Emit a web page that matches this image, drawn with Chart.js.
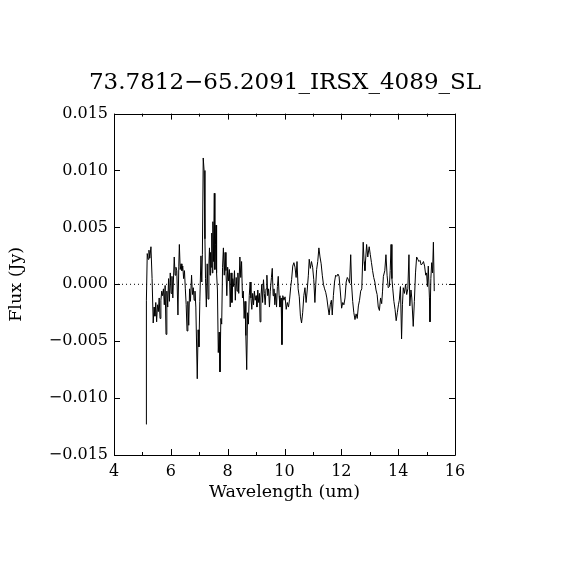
<!DOCTYPE html>
<html>
<head>
<meta charset="utf-8">
<script src="https://cdn.jsdelivr.net/npm/chart.js@4.4.1/dist/chart.umd.min.js"></script>
<style>
  html, body { margin: 0; padding: 0; background: #ffffff; }
  canvas { display: block; }
</style>
</head>
<body>
<canvas id="c" width="570" height="570"></canvas>
<script>
const chartTitle = "73.7812\u221265.2091_IRSX_4089_SL";
const xAxisTitle = "Wavelength (um)";
const yAxisTitle = "Flux (Jy)";

const xTickValues = [4, 6, 8, 10, 12, 14, 16];
const yTickValues = [-0.015, -0.010, -0.005, 0.000, 0.005, 0.010, 0.015];

const wavelength = [
  5.13, 5.14, 5.17, 5.20, 5.23, 5.26, 5.30, 5.34, 5.38, 5.41, 5.44, 5.47, 5.50, 5.53, 5.56, 5.59,
  5.62, 5.65, 5.68, 5.71, 5.74, 5.77, 5.80, 5.83, 5.86, 5.89, 5.92, 5.95, 5.98, 6.01, 6.04, 6.07,
  6.12, 6.15, 6.18, 6.21, 6.25, 6.28, 6.30, 6.33, 6.36, 6.39, 6.42, 6.45, 6.48, 6.51, 6.54, 6.57,
  6.60, 6.63, 6.66, 6.69, 6.73, 6.76, 6.79, 6.82, 6.85, 6.88, 6.93, 6.96, 6.99, 7.02, 7.06, 7.09,
  7.11, 7.14, 7.17, 7.20, 7.22, 7.25, 7.28, 7.31, 7.34, 7.36, 7.38, 7.40, 7.42, 7.44, 7.46, 7.48,
  7.50, 7.53, 7.55, 7.57, 7.59, 7.61, 7.64, 7.67, 7.70, 7.73, 7.76, 7.79, 7.82, 7.85, 7.88, 7.91,
  7.94, 7.97, 8.00, 8.03, 8.06, 8.09, 8.12, 8.15, 8.18, 8.21, 8.24, 8.27, 8.30, 8.33, 8.36, 8.39,
  8.43, 8.46, 8.49, 8.52, 8.55, 8.58, 8.61, 8.64, 8.67, 8.70, 8.73, 8.76, 8.79, 8.82, 8.85, 8.88,
  8.91, 8.94, 8.97, 9.00, 9.03, 9.06, 9.09, 9.12, 9.14, 9.17, 9.20, 9.23, 9.26, 9.29, 9.32, 9.35,
  9.38, 9.41, 9.44, 9.47, 9.50, 9.54, 9.57, 9.60, 9.63, 9.66, 9.69, 9.72, 9.75, 9.78, 9.81, 9.84,
  9.88, 9.91, 9.94, 9.98, 10.02, 10.06, 10.10, 10.14, 10.18, 10.22, 10.25, 10.29, 10.33, 10.37, 10.41, 10.44,
  10.48, 10.52, 10.56, 10.60, 10.64, 10.68, 10.72, 10.76, 10.80, 10.84, 10.87, 10.91, 10.95, 10.99, 11.03, 11.07,
  11.10, 11.13, 11.17, 11.21, 11.25, 11.29, 11.33, 11.37, 11.41, 11.45, 11.49, 11.53, 11.57, 11.61, 11.65, 11.68,
  11.72, 11.76, 11.80, 11.84, 11.88, 11.92, 11.96, 12.01, 12.05, 12.09, 12.13, 12.17, 12.21, 12.25, 12.29, 12.33,
  12.36, 12.40, 12.44, 12.48, 12.52, 12.56, 12.60, 12.64, 12.68, 12.72, 12.77, 12.80, 12.83, 12.89, 12.93, 12.98,
  13.02, 13.06, 13.10, 13.14, 13.18, 13.22, 13.26, 13.30, 13.34, 13.38, 13.42, 13.45, 13.48, 13.53, 13.57, 13.61,
  13.65, 13.69, 13.72, 13.75, 13.78, 13.81, 13.85, 13.89, 13.93, 13.97, 14.01, 14.04, 14.08, 14.12, 14.15, 14.18,
  14.22, 14.26, 14.30, 14.34, 14.38, 14.41, 14.45, 14.48, 14.53, 14.57, 14.61, 14.65, 14.69, 14.73, 14.77, 14.81,
  14.85, 14.89, 14.93, 14.97, 15.00, 15.03, 15.06, 15.10, 15.12, 15.15, 15.18, 15.21, 15.24, 15.27
];

const flux = [
  -0.0123, -0.0014, 0.0027, 0.0022, 0.0030, 0.0023, 0.0033, 0.0005, -0.0034, -0.0020, -0.0028, -0.0016, -0.0033, -0.0018, -0.0024, -0.0012,
  -0.0030, -0.0014, -0.0006, -0.0010, -0.0004, -0.0018, -0.0001, -0.0044, -0.0006, -0.0020, 0.0005, -0.0015, 0.0010, -0.0008, 0.0007, -0.0012,
  0.0024, 0.0008, 0.0015, 0.0012, -0.0027, 0.0016, 0.0035, 0.0013, 0.0018, 0.0012, 0.0016, 0.0005, 0.0012, -0.0004, -0.0018, -0.0041,
  -0.0015, -0.0036, -0.0004, -0.0015, 0.0008, -0.0009, -0.0003, -0.0014, -0.0006, -0.0020, -0.0083, -0.0040, -0.0055, -0.0015, 0.0025, 0.0002,
  0.0026, 0.0111, 0.0100, 0.0040, 0.0005, -0.0020, 0.0018, -0.0013, 0.0018, 0.0032, 0.0008, 0.0028, 0.0015, 0.0045, 0.0010, 0.0055,
  0.0020, 0.0080, 0.0013, 0.0035, 0.0052, 0.0010, -0.0005, -0.0060, -0.0042, -0.0077, -0.0030, -0.0035, 0.0015, 0.0032, 0.0008, 0.0028,
  0.0012, -0.0010, 0.0015, 0.0003, 0.0013, -0.0020, 0.0010, -0.0016, 0.0005, -0.0002, 0.0012, -0.0014, 0.0006, -0.0006, 0.0010, -0.0008,
  0.0024, 0.0006, 0.0020, -0.0012, -0.0006, -0.0030, -0.0015, -0.0045, -0.0075, -0.0025, -0.0035, -0.0010, 0.0002, -0.0012, -0.0022, -0.0008,
  -0.0018, -0.0006, -0.0014, -0.0010, -0.0020, -0.0005, -0.0016, -0.0008, -0.0033, -0.0012, 0.0000, -0.0016, 0.0004, -0.0008, -0.0018, -0.0004,
  0.0008, -0.0010, -0.0004, -0.0020, -0.0006, 0.0006, 0.0014, -0.0010, -0.0004, -0.0018, -0.0008, -0.0020, -0.0002, 0.0007, -0.0010, -0.0020,
  -0.0012, -0.0053, -0.0010, -0.0014, -0.0011, -0.0022, -0.0016, -0.0020, -0.0013, -0.0002, 0.0004, 0.0016, 0.0019, 0.0015, 0.0006, 0.0020,
  -0.0004, -0.0011, -0.0028, -0.0034, -0.0025, -0.0010, -0.0003, -0.0016, -0.0005, 0.0008, 0.0022, 0.0014, 0.0020, 0.0015, 0.0004, -0.0016,
  0.0000, 0.0013, 0.0020, 0.0032, 0.0024, 0.0018, 0.0008, 0.0000, -0.0004, -0.0007, -0.0012, -0.0020, -0.0027, -0.0018, -0.0014, -0.0027,
  -0.0010, 0.0002, 0.0008, 0.0007, 0.0009, 0.0007, -0.0005, -0.0021, -0.0016, -0.0018, -0.0012, 0.0002, 0.0006, 0.0004, 0.0001, 0.0026,
  0.0000, -0.0015, -0.0025, -0.0031, -0.0026, -0.0030, -0.0019, -0.0014, -0.0006, -0.0004, 0.0037, 0.0020, 0.0012, 0.0035, 0.0024, 0.0033,
  0.0026, 0.0019, 0.0012, 0.0006, 0.0002, -0.0005, -0.0009, -0.0020, -0.0023, -0.0012, -0.0017, -0.0006, 0.0007, 0.0012, 0.0026, 0.0008,
  -0.0003, -0.0002, 0.0012, 0.0035, 0.0005, -0.0004, -0.0015, -0.0022, -0.0032, -0.0025, -0.0018, -0.0014, -0.0002, -0.0048, -0.0018, -0.0003,
  -0.0008, 0.0000, -0.0009, -0.0004, 0.0026, -0.0019, -0.0005, -0.0012, -0.0037, -0.0015, 0.0010, 0.0024, 0.0022, 0.0020, 0.0021, 0.0017,
  0.0018, 0.0020, 0.0016, 0.0008, 0.0010, -0.0002, 0.0016, -0.0012, -0.0033, 0.0005, 0.0019, 0.0010, 0.0037, -0.0006
];

const xMin = 4, xMax = 16;
const yMin = -0.015, yMax = 0.015;

const spectrum = wavelength.map((w, i) => ({ x: w, y: flux[i] }));
const zeroLine = [{ x: xMin, y: 0 }, { x: xMax, y: 0 }];

const fmtY = v => {
  const s = Math.abs(v).toFixed(3);
  return (v < -1e-9 ? "\u2212" : "") + s;
};

const boxTicks = {
  id: 'boxTicks',
  afterDatasetsDraw(chart) {
    const { ctx, chartArea: a, scales: { x, y } } = chart;
    ctx.save();
    ctx.strokeStyle = '#000';
    ctx.lineWidth = 1;
    ctx.beginPath();
    ctx.rect(Math.round(a.left) + 0.5, Math.round(a.top) + 0.5,
             Math.round(a.right - a.left), Math.round(a.bottom - a.top));
    for (let v = xMin; v <= xMax; v += 1) {
      const px = Math.round(x.getPixelForValue(v)) + 0.5;
      const len = (v % 2 === 0) ? 6 : 3;
      ctx.moveTo(px, a.bottom); ctx.lineTo(px, a.bottom - len);
      ctx.moveTo(px, a.top); ctx.lineTo(px, a.top + len);
    }
    yTickValues.forEach(v => {
      const py = Math.round(y.getPixelForValue(v)) + 0.5;
      ctx.moveTo(a.left, py); ctx.lineTo(a.left + 6, py);
      ctx.moveTo(a.right, py); ctx.lineTo(a.right - 6, py);
    });
    ctx.stroke();
    ctx.restore();
  }
};

const serif = "'DejaVu Serif', 'Liberation Serif', serif";

new Chart(document.getElementById('c'), {
  type: 'line',
  data: {
    datasets: [
      { data: spectrum, borderColor: '#000', borderWidth: 1, pointRadius: 0, tension: 0, fill: false },
      { data: zeroLine, borderColor: '#000', borderWidth: 1, borderDash: [1, 3], pointRadius: 0, fill: false }
    ]
  },
  options: {
    responsive: false,
    animation: false,
    devicePixelRatio: 1,
    layout: { padding: 0 },
    plugins: {
      legend: { display: false },
      tooltip: { enabled: false },
      title: {
        display: true,
        text: chartTitle,
        color: '#000',
        font: { family: serif, size: 23, weight: 'normal' },
        padding: { top: 69, bottom: 17 }
      }
    },
    scales: {
      x: {
        type: 'linear',
        min: xMin, max: xMax,
        afterBuildTicks: s => { s.ticks = xTickValues.map(v => ({ value: v })); },
        afterFit: s => { s.height = 115; },
        grid: { display: false, drawTicks: false },
        border: { display: false },
        ticks: {
          color: '#000', padding: 7, maxRotation: 0,
          font: { family: serif, size: 16 },
          callback: v => String(v)
        },
        title: {
          display: true, text: xAxisTitle, color: '#000',
          font: { family: serif, size: 17.5 },
          padding: { top: 0, bottom: 67 }
        }
      },
      y: {
        type: 'linear',
        min: yMin, max: yMax,
        afterBuildTicks: s => { s.ticks = yTickValues.map(v => ({ value: v })); },
        afterFit: s => { s.width = 114; },
        grid: { display: false, drawTicks: false },
        border: { display: false },
        ticks: {
          color: '#000', padding: 6,
          font: { family: serif, size: 16 },
          callback: v => fmtY(v)
        },
        title: {
          display: true, text: yAxisTitle, color: '#000',
          font: { family: serif, size: 17.5 },
          padding: { top: 6, bottom: 0 }
        }
      },
      yRight: {
        type: 'linear',
        position: 'right',
        display: true,
        min: 0, max: 1,
        afterFit: s => { s.width = 115; },
        grid: { display: false, drawTicks: false },
        border: { display: false },
        ticks: { display: false }
      }
    }
  },
  plugins: [boxTicks]
});
</script>
</body>
</html>
